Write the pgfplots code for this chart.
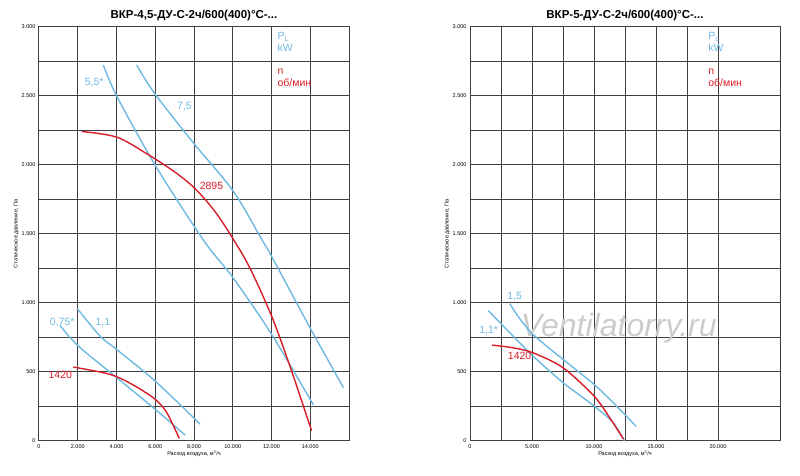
\documentclass[border=0pt]{standalone}
\usepackage{fontspec}
\setmainfont{Liberation Sans}
\usepackage{pgfplots}
\pgfplotsset{compat=1.18}
\definecolor{lb}{RGB}{110,185,225}
\definecolor{rd}{RGB}{215,30,40}
\tikzset{lab/.style={font=\fontsize{10.5}{12}\selectfont}}
\pgfplotsset{
  base/.style={scale only axis, height=414pt, ymin=0, ymax=3000,
    ytick={0,500,...,3000}, minor y tick num=1,
    grid=both, major grid style={black!75, line width=1pt}, minor grid style={black!75, line width=1pt},
    axis line style={black!75, line width=1pt}, tick style={draw=none},
    tick label style={font=\fontsize{5.5}{6}\selectfont},
    /pgf/number format/.cd, 1000 sep={.}, assume math mode=true, /pgfplots/.cd,
    scaled ticks=false,
    xlabel={Расход воздуха, м\textsuperscript{3}/ч}, ylabel={Статическое давление, Па},
    label style={font=\fontsize{5.5}{6}\selectfont},
    xlabel shift=-4pt, ylabel shift=-4pt,
    title style={font=\bfseries\fontsize{11.5}{12}\selectfont, yshift=-3pt},
    every axis plot/.append style={smooth, tension=0.5, line width=1.4pt}
  }
}
\begin{document}
\begin{tikzpicture}
\useasboundingbox (0pt,0pt) rectangle (800pt,476pt);
\begin{axis}[base, at={(39pt,35pt)}, anchor=south west, width=310pt, xmin=0, xmax=16000,
  xtick={0,2000,...,14000}, title={ВКР-4,5-ДУ-С-2ч/600(400)°С-...}]
\addplot[lb] coordinates {(3320,2724)(4010,2500)(5990,2000)(8480,1457)(10030,1180)(12010,772)(14160,262)};
\addplot[lb] coordinates {(5040,2724)(5990,2514)(7970,2160)(10030,1810)(11490,1462)(12010,1337)(13990,820)(15710,387)};
\addplot[rd] coordinates {(2200,2243)(4010,2202)(5560,2082)(7000,1950)(8050,1830)(9100,1660)(10030,1462)(10890,1252)(12010,904)(12950,543)(14070,75)};
\addplot[lb] coordinates {(1084,837)(2030,688)(4010,459)(5990,231)(7540,43)};
\addplot[lb] coordinates {(1980,959)(3150,760)(4010,663)(5990,435)(8310,123)};
\addplot[rd] coordinates {(1770,536)(3150,500)(4010,466)(5000,395)(5990,303)(6590,207)(7240,19)};
\node[lb,lab] at (axis cs:2850,2600) {5,5*};
\node[lb,lab] at (axis cs:7500,2420) {7,5};
\node[rd,lab] at (axis cs:8900,1850) {2895};
\node[lb,lab] at (axis cs:1200,860) {0,75*};
\node[lb,lab] at (axis cs:3300,860) {1,1};
\node[rd,lab] at (axis cs:1100,480) {1420};
\node[lb,lab,align=left,anchor=north west,inner sep=0pt] at (axis cs:12300,2960) {P\textsubscript{L}\\kW};
\node[rd,lab,align=left,anchor=north west,inner sep=0pt] at (axis cs:12300,2700) {n\\об/мин};
\end{axis}
\begin{axis}[base, at={(470pt,35pt)}, anchor=south west, width=310pt, xmin=0, xmax=25000,
  xtick={0,5000,...,20000}, minor x tick num=1, title={ВКР-5-ДУ-С-2ч/600(400)°С-...}]
\node[black!20,font=\itshape\fontsize{32}{32}\selectfont] at (axis cs:12000,820) {Ventilatorry.ru};
\addplot[lb] coordinates {(3210,995)(5090,772)(9990,411)(12320,207)(13390,106)};
\addplot[lb] coordinates {(1470,945)(3480,760)(5090,615)(7500,423)(9990,255)(11520,135)(12450,2)};
\addplot[rd] coordinates {(1790,695)(3480,675)(5090,639)(7500,531)(9990,327)(11250,171)(12370,14)};
\node[lb,lab] at (axis cs:3600,1045) {1,5};
\node[lb,lab] at (axis cs:1500,800) {1,1*};
\node[rd,lab] at (axis cs:4000,620) {1420};
\node[lb,lab,align=left,anchor=north west,inner sep=0pt] at (axis cs:19200,2960) {P\textsubscript{L}\\kW};
\node[rd,lab,align=left,anchor=north west,inner sep=0pt] at (axis cs:19200,2700) {n\\об/мин};
\end{axis}
\end{tikzpicture}
\end{document}
